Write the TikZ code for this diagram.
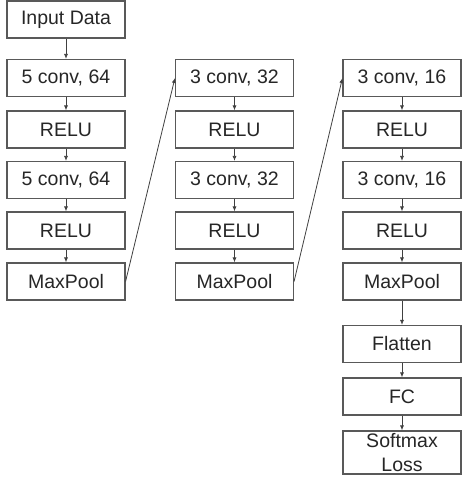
\documentclass[tikz,border=0pt]{standalone}
\usepackage{fontspec}
\setmainfont{Liberation Sans}
\usetikzlibrary{arrows.meta}
\begin{document}
\begin{tikzpicture}[x=1pt,y=-1pt,
  layer/.style={draw=black!65,line width=1.1pt,minimum width=118pt,minimum height=37pt,inner sep=0pt,
    font=\fontsize{19.5}{23.5}\selectfont,text=black!85,align=center},
  conn/.style={draw=black!75,line width=0.8pt,-{Latex[length=5pt,width=4pt]}}]
\useasboundingbox (0,0) rectangle (461,478);
% column 1
\node[layer] (in)  at (66,19.5) {Input Data};
\node[layer] (c1)  at (66,78)  {5 conv, 64};
\node[layer] (r1)  at (66,129.5) {RELU};
\node[layer] (c2)  at (66,180) {5 conv, 64};
\node[layer] (r2)  at (66,230.5) {RELU};
\node[layer] (p1)  at (66,281.5) {MaxPool};
% column 2
\node[layer] (c3)  at (234.5,78)  {3 conv, 32};
\node[layer] (r3)  at (234.5,129.5) {RELU};
\node[layer] (c4)  at (234.5,180) {3 conv, 32};
\node[layer] (r4)  at (234.5,230.5) {RELU};
\node[layer] (p2)  at (234.5,281.5) {MaxPool};
% column 3
\node[layer] (c5)  at (402,78)  {3 conv, 16};
\node[layer] (r5)  at (402,129.5) {RELU};
\node[layer] (c6)  at (402,180) {3 conv, 16};
\node[layer] (r6)  at (402,230.5) {RELU};
\node[layer] (p3)  at (402,281.5) {MaxPool};
\node[layer] (fl)  at (402,344) {Flatten};
\node[layer] (fc)  at (402,396.5) {FC};
\node[layer,minimum height=43pt] (sm) at (402,452.5) {Softmax\\Loss};
% connectors
\foreach \a/\b in {in/c1,c1/r1,r1/c2,c2/r2,r2/p1,c3/r3,r3/c4,c4/r4,r4/p2,c5/r5,r5/c6,c6/r6,r6/p3,p3/fl,fl/fc,fc/sm}
  \draw[conn] (\a) -- (\b);
\draw[conn] (p1.east) -- (c3.west);
\draw[conn] (p2.east) -- (c5.west);
\end{tikzpicture}
\end{document}
